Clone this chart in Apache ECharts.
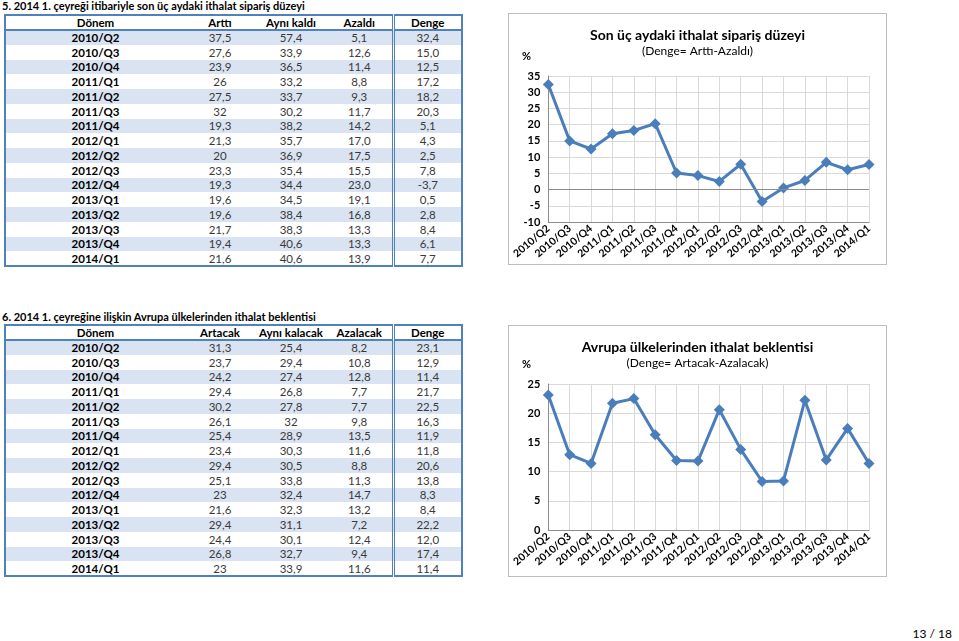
<!DOCTYPE html>
<html><head><meta charset="utf-8">
<script src="https://cdn.jsdelivr.net/npm/echarts@6/dist/echarts.min.js"></script>
<style>
html,body{margin:0;padding:0;background:#fff;width:959px;height:641px;overflow:hidden;font-family:Lato,"Open Sans",sans-serif;}
.ttl{position:absolute;left:2px;font-weight:bold;font-size:11px;color:#000;white-space:nowrap;}
table{position:absolute;left:4px;width:457px;border-collapse:collapse;border:2px solid #4f81bd;table-layout:fixed;font-size:11.5px;}
td,th{padding:0;text-align:center;white-space:nowrap;color:#3a3a3a;}
th{font-weight:bold;color:#000;border-bottom:2px solid #4f81bd;}
td.p{font-weight:bold;color:#000;}
tr.s td{background:#d9e3f1;}
.dg{border-left:3px double #4f81bd;}
.frame{position:absolute;border:1px solid #bdbdbd;background:#fff;}
.ch{position:absolute;}
#pg{position:absolute;right:7px;top:626px;font-size:12px;color:#000;white-space:nowrap;}
</style></head><body>
<div class="ttl" style="top:-1px">5. 2014 1. çeyreği itibariyle son üç aydaki ithalat sipariş düzeyi</div>
<table id="t1" style="top:14px"></table>
<div class="ttl" style="top:310px">6. 2014 1. çeyreğine ilişkin Avrupa ülkelerinden ithalat beklentisi</div>
<table id="t2" style="top:324px"></table>
<div class="frame" style="left:508px;top:13px;width:377px;height:250px"></div>
<div class="ch" id="c1" style="left:509px;top:14px;width:377px;height:250px"></div>
<div class="frame" style="left:508px;top:325px;width:377px;height:250px"></div>
<div class="ch" id="c2" style="left:509px;top:326px;width:377px;height:250px"></div>
<div id="pg">13 / 18</div>
<script>
var periods = ["2010/Q2","2010/Q3","2010/Q4","2011/Q1","2011/Q2","2011/Q3","2011/Q4","2012/Q1","2012/Q2","2012/Q3","2012/Q4","2013/Q1","2013/Q2","2013/Q3","2013/Q4","2014/Q1"];
var artti     = ["37,5","27,6","23,9","26","27,5","32","19,3","21,3","20","23,3","19,3","19,6","19,6","21,7","19,4","21,6"];
var ayniKaldi = ["57,4","33,9","36,5","33,2","33,7","30,2","38,2","35,7","36,9","35,4","34,4","34,5","38,4","38,3","40,6","40,6"];
var azaldi    = ["5,1","12,6","11,4","8,8","9,3","11,7","14,2","17,0","17,5","15,5","23,0","19,1","16,8","13,3","13,3","13,9"];
var denge1    = [32.4,15.0,12.5,17.2,18.2,20.3,5.1,4.3,2.5,7.8,-3.7,0.5,2.8,8.4,6.1,7.7];
var artacak    = ["31,3","23,7","24,2","29,4","30,2","26,1","25,4","23,4","29,4","25,1","23","21,6","29,4","24,4","26,8","23"];
var ayniKalacak= ["25,4","29,4","27,4","26,8","27,8","32","28,9","30,3","30,5","33,8","32,4","32,3","31,1","30,1","32,7","33,9"];
var azalacak   = ["8,2","10,8","12,8","7,7","7,7","9,8","13,5","11,6","8,8","11,3","14,7","13,2","7,2","12,4","9,4","11,6"];
var denge2     = [23.1,12.9,11.4,21.7,22.5,16.3,11.9,11.8,20.6,13.8,8.3,8.4,22.2,12.0,17.4,11.4];
var head1 = ["Dönem","Arttı","Aynı kaldı","Azaldı","Denge"];
var head2 = ["Dönem","Artacak","Aynı kalacak","Azalacak","Denge"];
var yTicks1 = [-10,35,5];
var yTicks2 = [0,25,5];

function fmt(v){ return v.toFixed(1).replace('.',','); }
function buildTable(id, head, a, b, c, d){
  var widths=[180,70,72,66,69];
  var h='<colgroup>'+widths.map(function(w){return '<col style="width:'+w+'px">';}).join('')+'</colgroup>';
  h+='<tr style="height:15px">';
  head.forEach(function(t,i){h+='<th'+(i==4?' class="dg"':'')+'>'+t+'</th>';});
  h+='</tr>';
  for(var i=0;i<periods.length;i++){
    h+='<tr class="'+(i%2==0?'s':'')+'" style="height:14.75px"><td class="p">'+periods[i]+'</td><td>'+a[i]+'</td><td>'+b[i]+'</td><td>'+c[i]+'</td><td class="dg">'+fmt(d[i])+'</td></tr>';
  }
  document.getElementById(id).innerHTML=h;
}
buildTable('t1',head1,artti,ayniKaldi,azaldi,denge1);
buildTable('t2',head2,artacak,ayniKalacak,azalacak,denge2);

function makeChart(id, title, sub, data, ticks, top, pctY, zeroLine){
  var ch = echarts.init(document.getElementById(id));
  var ff = 'Lato, "Open Sans", sans-serif';
  ch.setOption({
    animation:false,
    textStyle:{fontFamily:ff},
    title:[
      {text:title,left:'center',top:9,textStyle:{fontSize:14,fontWeight:'bold',color:'#000',fontFamily:ff}},
      {text:sub,left:'center',top:26,textStyle:{fontSize:12,fontWeight:'normal',color:'#000',fontFamily:ff}}
    ],
    graphic:[{type:'text',left:13,top:pctY,style:{text:'%',font:'bold 11px '+ff,fill:'#000'}}],
    grid:{left:34,right:17,top:top,height:146,containLabel:false},
    xAxis:{type:'category',data:periods,boundaryGap:false,
      axisLine:{onZero:false,lineStyle:{color:'#8c8c8c'}},
      axisTick:{show:false},
      splitLine:{show:true,lineStyle:{color:'#d9d9d9'}},
      axisLabel:{rotate:40,interval:0,fontSize:10.5,fontWeight:'bold',color:'#000',margin:5}},
    yAxis:{type:'value',min:ticks[0],max:ticks[1],interval:ticks[2],
      axisLine:{show:true,lineStyle:{color:'#8c8c8c'}},
      axisTick:{show:false},
      splitLine:{lineStyle:{color:'#d9d9d9'}},
      axisLabel:{fontSize:11,fontWeight:'bold',color:'#000',margin:8}},
    series:[{type:'line',data:data,symbol:'diamond',symbolSize:11,
      lineStyle:{color:'#4a7ebb',width:3},itemStyle:{color:'#4a7ebb'},
      markLine: zeroLine ? {silent:true,symbol:'none',label:{show:false},lineStyle:{color:'#8c8c8c',type:'solid',width:1},data:[{yAxis:0}]} : undefined,
      z:3}]
  });
}
makeChart('c1','Son üç aydaki ithalat sipariş düzeyi','(Denge= Arttı-Azaldı)',denge1,yTicks1,62,37,true);
makeChart('c2','Avrupa ülkelerinden ithalat beklentisi','(Denge= Artacak-Azalacak)',denge2,yTicks2,58,33,false);
</script>
</body></html>
